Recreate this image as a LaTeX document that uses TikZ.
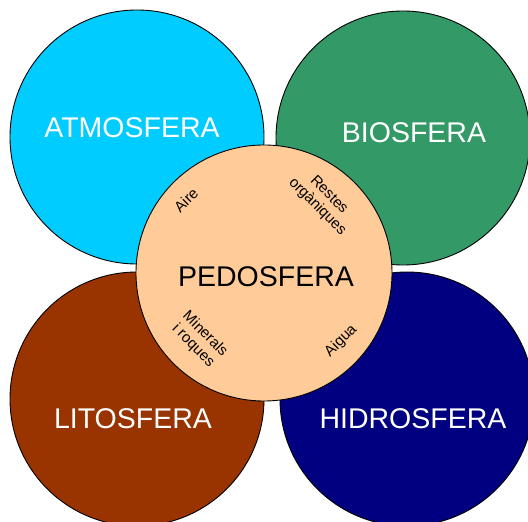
\documentclass[tikz,border=0pt]{standalone}
\usepackage{fontspec}
\setmainfont{Liberation Sans}
\usepackage{tikz}

\definecolor{atmoscol}{HTML}{00CCFF}
\definecolor{biocol}{HTML}{339966}
\definecolor{litocol}{HTML}{993300}
\definecolor{hidrocol}{HTML}{000080}
\definecolor{pedocol}{HTML}{FFCC99}

\tikzset{
    sphere/.style = {circle, draw = black, line width = 0.9pt, minimum size = 254pt, inner sep = 0pt},
    biglabel/.style = {font = \fontsize{28.5}{30}\selectfont, inner sep = 0pt},
    smalllabel/.style = {font = \fontsize{15}{16.5}\selectfont, align = center, inner sep = 0pt}
}

\begin{document}
\begin{tikzpicture}[x = 1pt, y = 1pt]
        \useasboundingbox (0, 0) rectangle (528, 522);
        \node[sphere, fill = atmoscol] (atmos) at (137, 385) {};
        \node[sphere, fill = biocol] (bio) at (403, 384) {};
        \node[sphere, fill = litocol] (lito) at (137, 123) {};
        \node[sphere, fill = hidrocol] (hidro) at (407, 123) {};
        \node[sphere, fill = pedocol, minimum size = 256pt] (pedo) at (264, 249) {};
        \node[biglabel, white] (atmostext) at (132, 394) {ATMOSFERA};
        \node[biglabel, white] (biotext) at (414, 389) {BIOSFERA};
        \node[biglabel, white] (litotext) at (133, 103) {LITOSFERA};
        \node[biglabel, white] (hidrotext) at (413, 103) {HIDROSFERA};
        \node[biglabel, black] (pedotext) at (266, 245) {PEDOSFERA};
        \node[smalllabel, rotate = 45] (aire) at (186, 322) {Aire};
        \node[smalllabel, rotate = -45] (restes) at (323, 321) {Restes\\orgàniques};
        \node[smalllabel, rotate = -45] (minerals) at (199, 182) {Minerals\\i roques};
        \node[smalllabel, rotate = 45] (aigua) at (341, 181) {Aigua};
    \end{tikzpicture}
\end{document}
